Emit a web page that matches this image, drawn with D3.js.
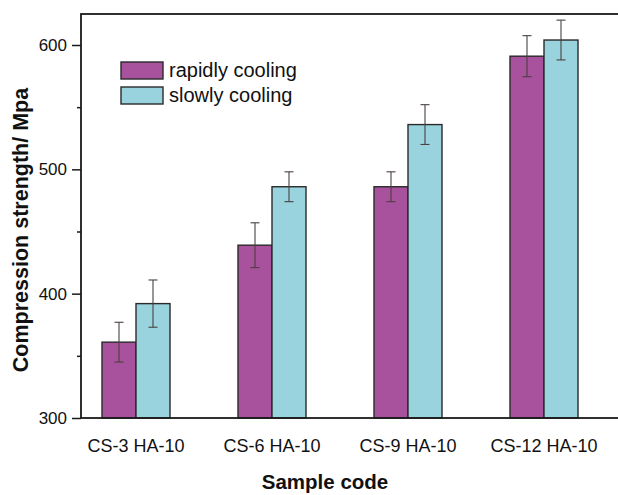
<!DOCTYPE html>
<html>
<head>
<meta charset="utf-8">
<script src="https://cdn.jsdelivr.net/npm/d3@7"></script>
<style>
html,body{margin:0;padding:0;background:#fff;}
svg{display:block;font-family:"Liberation Sans",Arial,Helvetica,sans-serif;}
</style>
</head>
<body>
<svg id="chart" width="618" height="495"></svg>
<script>
const categories = ["CS-3 HA-10", "CS-6 HA-10", "CS-9 HA-10", "CS-12 HA-10"];
const seriesNames = ["rapidly cooling", "slowly cooling"];
const rapidValues = [361, 439, 486, 591];
const rapidErrors = [16, 18, 12, 16.5];
const slowValues = [392, 486, 536, 604];
const slowErrors = [19, 12, 16, 16];
const yTicks = [300, 400, 500, 600];
const yMinorTicks = [350, 450, 550];
const colors = ["#A8519C", "#98D3DE"];

(function () {
const svg = d3.select("#chart");
const mLeft = 81, mTop = 14, mBottom = 418, mRight = 640;

const y = d3.scaleLinear().domain([300, 600]).range([mBottom, 45]);
const x = d3.scalePoint().domain(categories).range([136, 544]);
const barW = 34;

const series = [
  {name: seriesNames[0], values: rapidValues, errors: rapidErrors, color: colors[0], off: -barW},
  {name: seriesNames[1], values: slowValues, errors: slowErrors, color: colors[1], off: 0}
];

// bars
series.forEach(s => {
  const g = svg.append("g");
  g.selectAll("rect").data(categories).join("rect")
    .attr("x", d => x(d) + s.off)
    .attr("y", (d, i) => y(s.values[i]))
    .attr("width", barW)
    .attr("height", (d, i) => mBottom - y(s.values[i]))
    .attr("fill", s.color)
    .attr("stroke", "#2a2a2a")
    .attr("stroke-width", 1.4);
});
// error bars
series.forEach(s => {
  const g = svg.append("g").attr("stroke", "#4a4040").attr("stroke-width", 1.1);
  categories.forEach((c, i) => {
    const cx = x(c) + s.off + barW / 2;
    const y1 = y(s.values[i] + s.errors[i]), y2 = y(s.values[i] - s.errors[i]);
    g.append("line").attr("x1", cx).attr("x2", cx).attr("y1", y1).attr("y2", y2);
    g.append("line").attr("x1", cx - 4.5).attr("x2", cx + 4.5).attr("y1", y1).attr("y2", y1);
    g.append("line").attr("x1", cx - 4.5).attr("x2", cx + 4.5).attr("y1", y2).attr("y2", y2);
  });
});

// frame
svg.append("rect").attr("x", mLeft).attr("y", mTop).attr("width", mRight - mLeft).attr("height", mBottom - mTop)
  .attr("fill", "none").attr("stroke", "#1a1a1a").attr("stroke-width", 1.8);

// y axis
const yAxis = d3.axisLeft(y).tickValues(yTicks).tickSize(9).tickPadding(5).tickFormat(d3.format("d"));
const ya = svg.append("g").attr("transform", `translate(${mLeft},0)`).call(yAxis);
ya.select(".domain").remove();
ya.selectAll("line").attr("stroke", "#1a1a1a").attr("stroke-width", 1.5);
ya.selectAll("text").attr("font-size", 17).attr("fill", "#111").attr("font-family", "Liberation Sans, Arial, sans-serif");
const yMinor = d3.axisLeft(y).tickValues(yMinorTicks).tickSize(4).tickFormat("");
const ym = svg.append("g").attr("transform", `translate(${mLeft},0)`).call(yMinor);
ym.select(".domain").remove();
ym.selectAll("line").attr("stroke", "#1a1a1a").attr("stroke-width", 1.5);

// x labels
svg.append("g").selectAll("text").data(categories).join("text")
  .attr("x", d => x(d)).attr("y", 452)
  .attr("text-anchor", "middle").attr("font-size", 18).attr("fill", "#111")
  .text(d => d);

// axis titles
svg.append("text").attr("x", 325).attr("y", 489).attr("text-anchor", "middle")
  .attr("font-size", 20.5).attr("font-weight", "bold").attr("fill", "#111").text("Sample code");
svg.append("text").attr("transform", "translate(28,230) rotate(-90)").attr("text-anchor", "middle")
  .attr("font-size", 21.5).attr("font-weight", "bold").attr("fill", "#111").text("Compression strength/ Mpa");

// legend
const lg = svg.append("g");
series.forEach((s, i) => {
  lg.append("rect").attr("x", 121).attr("y", 62 + i * 25).attr("width", 42).attr("height", 17)
    .attr("fill", s.color).attr("stroke", "#2a2a2a").attr("stroke-width", 1.4);
  lg.append("text").attr("x", 169).attr("y", 77 + i * 25).attr("font-size", 20).attr("fill", "#111").text(s.name);
});
})();
</script>
</body>
</html>
